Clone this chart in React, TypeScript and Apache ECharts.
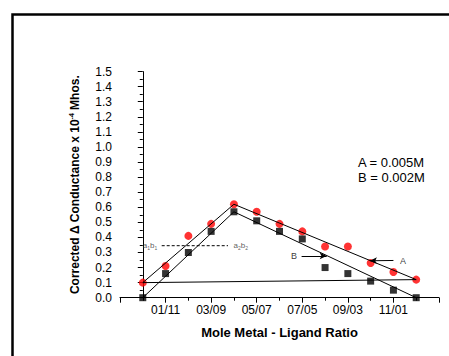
import React, { useEffect, useRef } from "react";
import * as echarts from "echarts";

const positions = [0, 1, 2, 3, 4, 5, 6, 7, 8, 9, 10, 11, 12];
const ratioLabels = ["00/12", "01/11", "02/10", "03/09", "04/08", "05/07", "06/06", "07/05", "08/04", "09/03", "10/02", "11/01", "12/00"];
const seriesA = [0.10, 0.21, 0.41, 0.49, 0.62, 0.57, 0.49, 0.44, 0.34, 0.34, 0.23, 0.17, 0.12];
const seriesB = [0.00, 0.16, 0.30, 0.44, 0.57, 0.51, 0.44, 0.39, 0.20, 0.16, 0.11, 0.05, 0.00];
const fitA = [[0, 0.10], [4, 0.62], [12, 0.12], [0, 0.10]];
const fitB = [[0, 0.0], [4, 0.57], [12, 0.0]];
const dashLine = [[0.83, 0.345], [3.74, 0.345]];
const dashLabels = [[0.32, 0.345, "1"], [4.3, 0.345, "2"]];
const arrowA = [[11.0, 0.247], [9.97, 0.245]];
const arrowB = [[6.97, 0.277], [8.07, 0.277]];
const arrowTexts = [[11.42, 0.246, "A"], [6.64, 0.277, "B"]];
const legendTexts = ["A = 0.005M", "B = 0.002M"];

const FONT = "'Liberation Sans', Arial, sans-serif";

export default function App() {
  const ref = useRef<HTMLDivElement>(null);
  useEffect(() => {
    if (!ref.current) return;
    const chart = echarts.init(ref.current, null, { renderer: "svg" });
    chart.setOption({
      animation: false,
      backgroundColor: "#fff",
      textStyle: { fontFamily: FONT },
      grid: { left: 120, right: 10, top: 71.6, bottom: 58.3 },
      xAxis: {
        type: "value",
        min: -1,
        max: 13,
        interval: 2,
        name: "Mole Metal - Ligand Ratio",
        nameLocation: "middle",
        nameGap: 28,
        nameTextStyle: { fontFamily: FONT, fontWeight: "bold", fontSize: 13, color: "#000" },
        axisLine: { show: true, onZero: false, lineStyle: { color: "#000", width: 1 } },
        axisTick: { show: true, length: 5, lineStyle: { color: "#000" } },
        minorTick: { show: true, splitNumber: 2, length: 3, lineStyle: { color: "#000" } },
        splitLine: { show: false },
        axisLabel: {
          color: "#000",
          fontFamily: FONT,
          fontSize: 12,
          margin: 6,
          formatter: (v: number) => (v >= 1 && v <= 11 && v % 2 === 1 ? ratioLabels[v] : ""),
        },
      },
      yAxis: {
        type: "value",
        min: 0,
        max: 1.5,
        interval: 0.1,
        name: "{b|Corrected Δ Conductance x 10}{sup|-4}{b| Mhos.}",
        nameLocation: "middle",
        nameGap: 38,
        nameTextStyle: {
          rich: {
            b: { fontFamily: FONT, fontWeight: "bold", fontSize: 12, color: "#000", lineHeight: 14 },
            sup: { fontFamily: FONT, fontWeight: "bold", fontSize: 7, color: "#000", verticalAlign: "top", lineHeight: 14 },
          },
        },
        axisLine: { show: true, lineStyle: { color: "#000", width: 1 } },
        axisTick: { show: true, length: 5, lineStyle: { color: "#000" } },
        minorTick: { show: true, splitNumber: 2, length: 3, lineStyle: { color: "#000" } },
        splitLine: { show: false },
        axisLabel: {
          color: "#000",
          fontFamily: FONT,
          fontSize: 12,
          margin: 8,
          formatter: (v: number) => v.toFixed(1),
        },
      },
      series: [
        {
          type: "line",
          data: fitA,
          symbol: "none",
          lineStyle: { color: "#000", width: 1 },
          silent: true,
        },
        {
          type: "line",
          data: fitB,
          symbol: "none",
          lineStyle: { color: "#000", width: 1 },
          silent: true,
        },
        {
          type: "line",
          data: dashLine,
          symbol: "none",
          lineStyle: { color: "#000", width: 1, type: [3, 2] },
          silent: true,
        },
        {
          type: "scatter",
          data: dashLabels,
          symbolSize: 0,
          silent: true,
          itemStyle: { color: "#333" },
          label: {
            show: true,
            position: "inside",
            formatter: (p: any) => `{n|a}{s|${p.value[2]}}{n|b}{s|${p.value[2]}}`,
            rich: {
              n: { fontFamily: FONT, fontSize: 8, color: "#333" },
              s: { fontFamily: FONT, fontSize: 5, color: "#333", verticalAlign: "bottom", lineHeight: 10 },
            },
          },
        },
        {
          type: "scatter",
          data: arrowTexts,
          symbolSize: 0,
          silent: true,
          itemStyle: { color: "#000" },
          label: {
            show: true,
            position: "inside",
            formatter: (p: any) => p.value[2],
            fontFamily: FONT,
            fontSize: 9,
            color: "#000",
            textBorderWidth: 0,
          },
        },
        {
          type: "line",
          data: [],
          silent: true,
          markLine: {
            silent: true,
            symbol: ["none", "arrow"],
            symbolSize: [5, 7],
            label: { show: false },
            lineStyle: { color: "#000", width: 1, type: "solid" },
            data: [
              [{ coord: arrowA[0] }, { coord: arrowA[1] }],
              [{ coord: arrowB[0] }, { coord: arrowB[1] }],
            ],
          },
        },
        {
          name: "A",
          type: "scatter",
          data: positions.map((x, i) => [x, seriesA[i]]),
          symbol: "circle",
          symbolSize: 8,
          itemStyle: { color: "#ff0000" },
        },
        {
          name: "B",
          type: "scatter",
          data: positions.map((x, i) => [x, seriesB[i]]),
          symbol: "rect",
          symbolSize: 7,
          itemStyle: { color: "#000" },
        },
      ],
      graphic: [
        {
          type: "rect",
          shape: { x: 12.5, y: 14.5, width: 500, height: 400 },
          style: { fill: "none", stroke: "#000", lineWidth: 2.5 },
          silent: true,
        },
        {
          type: "text",
          left: 358,
          top: 156,
          style: { text: legendTexts[0], fontFamily: FONT, fontSize: 13, fill: "#000" },
        },
        {
          type: "text",
          left: 358,
          top: 171,
          style: { text: legendTexts[1], fontFamily: FONT, fontSize: 13, fill: "#000" },
        },
      ],
    });
    return () => chart.dispose();
  }, []);
  return (
    <div
      ref={ref}
      style={{ position: "fixed", left: 0, top: 0, width: 449, height: 356, background: "#fff" }}
    />
  );
}
